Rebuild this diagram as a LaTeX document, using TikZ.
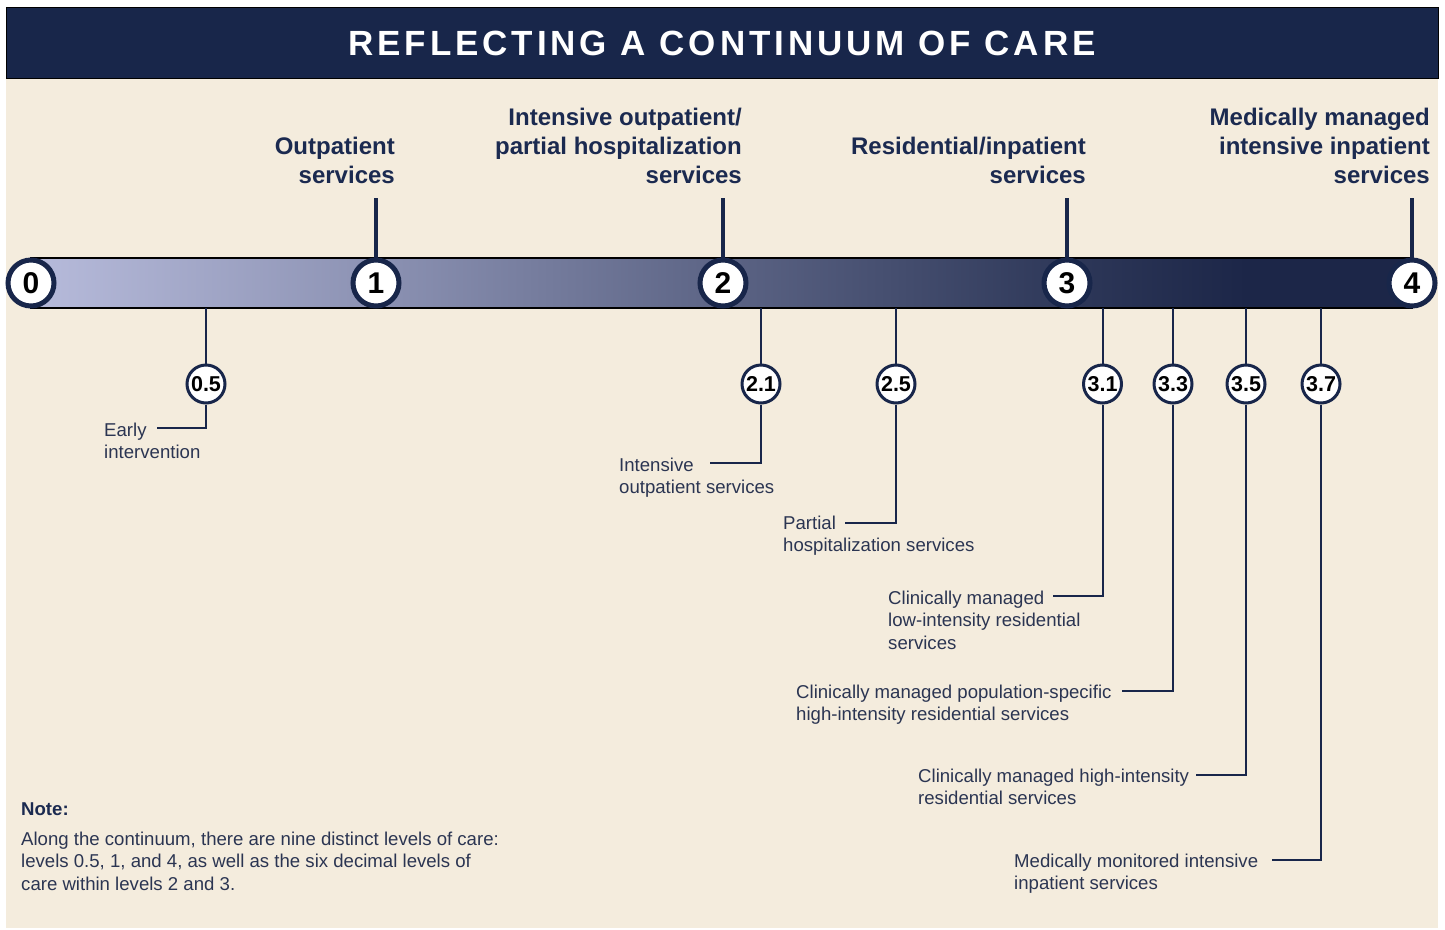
\documentclass[tikz,border=0pt]{standalone}
\usepackage{fontspec}
\setmainfont{Liberation Sans}
\newfontfamily\titlefont[LetterSpace=11.2]{Liberation Sans}
\definecolor{navy}{HTML}{18264A}
\definecolor{labnavy}{HTML}{1B2A50}
\definecolor{textnavy}{HTML}{2B3552}
\definecolor{beige}{HTML}{F4ECDD}
\definecolor{gA}{HTML}{B7BBDB}
\definecolor{gB}{HTML}{8C92B3}
\definecolor{gC}{HTML}{5C6485}
\definecolor{gD}{HTML}{2E3859}
\definecolor{gE}{HTML}{1C2648}
\pgfdeclarehorizontalshading{barshade}{100bp}{color(0bp)=(gA); color(25bp)=(gA); color(37.5bp)=(gB); color(50bp)=(gC); color(62.5bp)=(gD); color(69bp)=(gE); color(100bp)=(gE)}
\begin{document}
\begin{tikzpicture}[x=1pt,y=-1pt,
  major/.style={circle, draw=navy, line width=5pt, fill=white, minimum size=46pt, inner sep=0pt, text=black, font=\fontsize{30}{30}\selectfont\bfseries},
  minor/.style={circle, draw=navy, line width=3pt, fill=white, minimum size=38pt, inner sep=0pt, text=black, font=\fontsize{21.5}{21.5}\selectfont\bfseries},
  tickline/.style={draw=navy, line width=4pt},
  lead/.style={draw=navy, line width=2pt},
  toplab/.style={align=right, anchor=base east, inner sep=0pt, text=labnavy, font=\fontsize{24}{29}\selectfont\bfseries},
  lab/.style={align=left, anchor=base west, inner sep=0pt, text=textnavy, font=\fontsize{18.6}{22.5}\selectfont}]
\useasboundingbox (0,0) rectangle (1445,929);
\fill[white] (0,0) rectangle (1445,929);
\fill[beige] (6,7) rectangle (1438,928);
\draw[fill=navy, draw=black, line width=1pt] (6,7) rectangle (1438,78);
\node[text=white, inner sep=0pt, anchor=base, font=\titlefont\fontsize{35}{35}\selectfont\bfseries] (title) at (722,55.5) {REFLECTING A CONTINUUM OF CARE};

% bar
\path[shading=barshade, draw=black, line width=2pt] (31,258) rectangle (1412,308);

% coordinates
\coordinate (t1) at (376,198);
\coordinate (t2) at (723,198);
\coordinate (t3) at (1067,198);
\coordinate (t4) at (1412,198);
\foreach \n/\x in {05/206,21/761,25/896,31/1102.5,33/1173,35/1246,37/1321}{
  \coordinate (b\n) at (\x,308);
}
\coordinate (e05) at (157,428);
\coordinate (e21) at (710,463);
\coordinate (e25) at (845,523);
\coordinate (e31) at (1053,596);
\coordinate (e33) at (1122,691);
\coordinate (e35) at (1196,775);
\coordinate (e37) at (1272,860);

% major circles
\node[major] (n0) at (31,283) {0};
\node[major] (n1) at (376,283) {1};
\node[major] (n2) at (723,283) {2};
\node[major] (n3) at (1067,283) {3};
\node[major] (n4) at (1412,283) {4};

% minor circles
\node[minor] (c05) at (206,384) {0.5};
\node[minor] (c21) at (761,384) {2.1};
\node[minor] (c25) at (896,384) {2.5};
\node[minor] (c31) at (1102.5,384) {3.1};
\node[minor] (c33) at (1173,384) {3.3};
\node[minor] (c35) at (1246,384) {3.5};
\node[minor] (c37) at (1321,384) {3.7};

% tick lines above
\foreach \i in {1,2,3,4}{ \draw[tickline] (n\i) -- (t\i); }

% leads below
\foreach \n in {05,21,25,31,33,35,37}{
  \draw[lead] (b\n) -- (c\n);
  \draw[lead] (c\n) |- (e\n);
}

% top labels (anchored at baseline of last line)
\node[toplab] (L1) at (395,183.5) {Outpatient\\services};
\node[toplab] (L2) at (742,183.5) {Intensive outpatient/\\partial hospitalization\\services};
\node[toplab] (L3) at (1086,183.5) {Residential/inpatient\\services};
\node[toplab] (L4) at (1430,183.5) {Medically managed\\intensive inpatient\\services};

% bottom labels (anchored at baseline of last line)
\node[lab] (l05) at (104,458.5) {Early\\intervention};
\node[lab] (l21) at (619,493.5) {Intensive\\outpatient services};
\node[lab] (l25) at (783,551.5) {Partial\\hospitalization services};
\node[lab] (l31) at (888,649) {Clinically managed\\low-intensity residential\\services};
\node[lab] (l33) at (796,720.5) {Clinically managed population-specific\\high-intensity residential services};
\node[lab] (l35) at (918,804.5) {Clinically managed high-intensity\\residential services};
\node[lab] (l37) at (1014,889.5) {Medically monitored intensive\\inpatient services};

% note
\node[inner sep=0pt, anchor=base west, text=labnavy, font=\fontsize{18.6}{22}\selectfont\bfseries] (note) at (21,815) {Note:};
\node[lab] (notetext) at (21,890) {Along the continuum, there are nine distinct levels of care:\\levels 0.5, 1, and 4, as well as the six decimal levels of\\care within levels 2 and 3.};
\end{tikzpicture}
\end{document}
